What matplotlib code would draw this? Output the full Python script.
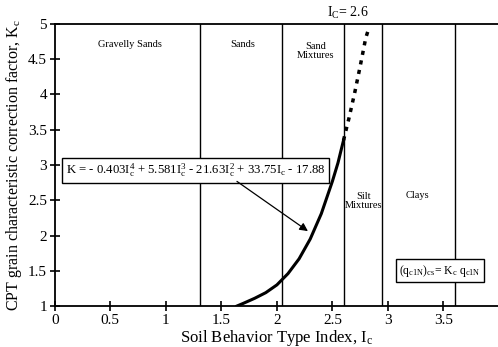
import matplotlib.pyplot as plt

plt.rcParams['font.family'] = ['Liberation Serif', 'DejaVu Serif']
plt.rcParams['mathtext.fontset'] = 'custom'
plt.rcParams['mathtext.rm'] = 'Liberation Serif'
plt.rcParams['mathtext.it'] = 'Liberation Serif'

# zone boundaries (Ic)
boundaries = [1.31, 2.05, 2.60, 2.95, 3.60]

# Kc curve
ic_solid = [1.64, 1.70, 1.80, 1.90, 2.00, 2.10, 2.20, 2.30, 2.40, 2.50, 2.55, 2.60]
kc_solid = [1.00, 1.04, 1.11, 1.19, 1.30, 1.46, 1.67, 1.95, 2.31, 2.77, 3.03, 3.35]
ic_dash = [2.60, 2.65, 2.70, 2.75, 2.80, 2.83]
kc_dash = [3.35, 3.67, 4.02, 4.40, 4.80, 4.95]

xticks = [0, 0.5, 1, 1.5, 2, 2.5, 3, 3.5]
xtick_labels = ['0', '0.5', '1', '1.5', '2', '2.5', '3', '3.5']
yticks = [1, 1.5, 2, 2.5, 3, 3.5, 4, 4.5, 5]
ytick_labels = ['1', '1.5', '2', '2.5', '3', '3.5', '4', '4.5', '5']

fig = plt.figure(figsize=(4.98, 3.47), dpi=100)
ax = fig.add_axes([0.110, 0.118, 0.892, 0.813])

for b in boundaries:
    ax.axvline(b, color='black', lw=1.0)

ax.plot(ic_solid, kc_solid, color='black', lw=2.2)
ax.plot(ic_dash, kc_dash, color='black', lw=2.5, linestyle=(0, (1.2, 1.6)))

ax.set_xlim(0, 4)
ax.set_ylim(1, 5)
ax.set_xticks(xticks)
ax.set_xticklabels(xtick_labels)
ax.set_yticks(yticks)
ax.set_yticklabels(ytick_labels)
ax.tick_params(direction='inout', length=7, width=1.2, labelsize=11, pad=2)
for s in ['left', 'bottom', 'top']:
    ax.spines[s].set_linewidth(1.3)
ax.spines['right'].set_visible(False)

ax.set_xlabel('Soil Behavior Type Index, I$_c$', fontsize=12, labelpad=1)
ax.set_ylabel('CPT grain characteristic correction factor, K$_c$', fontsize=11.5, labelpad=3)

# zone names
ax.text(0.68, 4.71, 'Gravelly Sands', ha='center', va='center', fontsize=7.5)
ax.text(1.69, 4.71, 'Sands', ha='center', va='center', fontsize=7.5)
ax.text(2.35, 4.62, 'Sand\nMixtures', ha='center', va='center', fontsize=7.5, linespacing=1.0)
ax.text(2.78, 2.49, 'Silt\nMixtures', ha='center', va='center', fontsize=7.5, linespacing=1.0)
ax.text(3.27, 2.57, 'Clays', ha='center', va='center', fontsize=7.5)

ax.text(2.64, 5.16, 'I$_C$= 2.6', ha='center', va='center', fontsize=10, clip_on=False)

ax.text(1.265, 2.925,
        'K = - 0.403I$_c^4$ + 5.581I$_c^3$ - 21.63I$_c^2$ + 33.75I$_c$ - 17.88',
        ha='center', va='center', fontsize=9.2,
        bbox=dict(boxstyle='square,pad=0.3', facecolor='white', edgecolor='black', lw=1.0))

ax.annotate('', xy=(2.30, 2.04), xytext=(1.62, 2.79),
            arrowprops=dict(arrowstyle='-|>', color='black', lw=0.9, mutation_scale=12))

ax.text(3.47, 1.50, '(q$_{c1N}$)$_{cs}$= K$_c$ q$_{c1N}$', ha='center', va='center', fontsize=8.5,
        bbox=dict(boxstyle='square,pad=0.3', facecolor='white', edgecolor='black', lw=1.0))

plt.savefig('out.png', dpi=100)
